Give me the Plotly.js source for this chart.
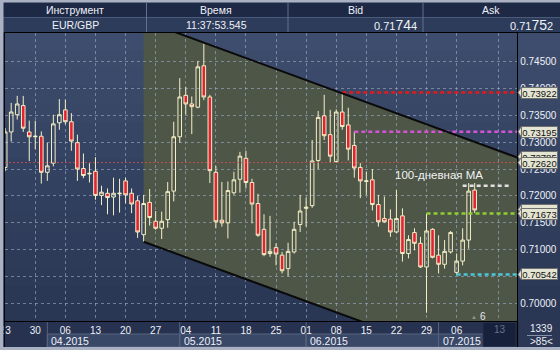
<!DOCTYPE html>
<html><head><meta charset="utf-8">
<script src="https://cdn.plot.ly/plotly-3.0.1.min.js"></script>
<style>html,body{margin:0;padding:0;background:#2f3c5a;}#chart{width:560px;height:350px;}</style>
</head><body><div id="chart"></div>
<script>
// ---------- data ----------
const weekTickIndex  = [0,5,10,15,20,25,30,35,40,45,50,55,60,65,70,75,82];
const weekTickLabels = ['23','30','06','13','20','27','04','11','18','25','01','08','15','22','29','06','13'];
const monthLabels = ['04.2015','05.2015','06.2015','07.2015'];
const monthStartIndex = [7,29,50,72];
const yTickValues = [0.700,0.705,0.710,0.715,0.720,0.725,0.730,0.735,0.740,0.745];

const openP  = [0.7253,0.7319,0.7351,0.7368,0.7319,0.7310,0.7311,0.7244,0.7261,0.7336,
                0.7360,0.7338,0.7299,0.7251,0.7241,0.7246,0.7201,0.7205,0.7198,0.7204,
                0.7228,0.7205,0.7191,0.7128,0.7188,0.7153,0.7140,0.7156,0.7209,0.7310,
                0.7387,0.7371,0.7365,0.7442,0.7384,0.7244,0.7155,0.7150,0.7206,0.7231,
                0.7270,0.7225,0.7186,0.7138,0.7093,0.7104,0.7090,0.7065,0.7096,0.7147,
                0.7177,0.7182,0.7266,0.7349,0.7314,0.7264,0.7356,0.7332,0.7294,0.7253,
                0.7227,0.7230,0.7184,0.7158,0.7157,0.7133,0.7163,0.7093,0.7132,0.7112,
                0.7068,0.7138,0.7090,0.7073,0.7096,0.7058,0.7079,0.7118,0.7211];
const highP  = [0.7326,0.7373,0.7386,0.7386,0.7340,0.7340,0.7320,0.7299,0.7351,0.7380,
                0.7379,0.7354,0.7314,0.7279,0.7261,0.7272,0.7219,0.7214,0.7234,0.7232,
                0.7234,0.7214,0.7200,0.7202,0.7213,0.7172,0.7171,0.7226,0.7338,0.7419,
                0.7403,0.7385,0.7451,0.7483,0.7388,0.7256,0.7226,0.7227,0.7245,0.7282,
                0.7284,0.7232,0.7204,0.7166,0.7163,0.7112,0.7096,0.7113,0.7152,0.7202,
                0.7197,0.7304,0.7358,0.7388,0.7360,0.7361,0.7392,0.7364,0.7320,0.7261,
                0.7245,0.7250,0.7202,0.7199,0.7175,0.7211,0.7177,0.7127,0.7140,0.7124,
                0.7167,0.7140,0.7127,0.7118,0.7135,0.7093,0.7140,0.7224,0.7224];
const lowP   = [0.7246,0.7301,0.7342,0.7319,0.7265,0.7287,0.7223,0.7228,0.7255,0.7323,
                0.7333,0.7284,0.7228,0.7233,0.7225,0.7193,0.7183,0.7166,0.7164,0.7169,
                0.7186,0.7168,0.7122,0.7115,0.7145,0.7137,0.7120,0.7141,0.7190,0.7299,
                0.7351,0.7315,0.7363,0.7378,0.7224,0.7140,0.7143,0.7121,0.7202,0.7206,
                0.7214,0.7149,0.7124,0.7088,0.7087,0.7071,0.7056,0.7051,0.7093,0.7133,
                0.7143,0.7178,0.7250,0.7304,0.7262,0.7262,0.7323,0.7266,0.7234,0.7196,
                0.7202,0.7173,0.7143,0.7150,0.7124,0.7131,0.7078,0.7084,0.7099,0.7066,
                0.6983,0.7084,0.7056,0.7065,0.7093,0.7054,0.7071,0.7102,0.7168];
const closeP = [0.7319,0.7356,0.7371,0.7326,0.7310,0.7311,0.7244,0.7256,0.7334,0.7351,
                0.7338,0.7302,0.7250,0.7238,0.7242,0.7201,0.7207,0.7197,0.7205,0.7205,
                0.7202,0.7185,0.7133,0.7186,0.7160,0.7140,0.7153,0.7208,0.7310,0.7384,
                0.7371,0.7366,0.7440,0.7384,0.7247,0.7152,0.7150,0.7210,0.7230,0.7274,
                0.7225,0.7185,0.7127,0.7091,0.7097,0.7092,0.7061,0.7097,0.7138,0.7172,
                0.7179,0.7265,0.7346,0.7312,0.7274,0.7356,0.7329,0.7287,0.7252,0.7228,
                0.7228,0.7184,0.7152,0.7152,0.7133,0.7158,0.7093,0.7119,0.7112,0.7068,
                0.7135,0.7086,0.7073,0.7097,0.7132,0.7079,0.7118,0.7209,0.7174];

const levelValues = [0.73922, 0.73195, 0.72190, 0.71673, 0.70542];
const levelStart  = [56, 58, 76, 70, 75];
const levelEnd    = [85.2, 85.2, 83.9, 85.2, 85.2];
const refLineValue = 0.72620;
const channelX     = [23, 85.2];
const channelUpper = [0.7526, 0.7271];
const channelLower = [0.7115, 0.6860];

const tagValues = [0.72731, 0.71744, 0.73922, 0.73195, 0.72620, 0.71673, 0.70542];
const tagLabels = ['0.72785','0.71744','0.73922','0.73195','0.72620','0.71673','0.70542'];

const headerTitles = ['Инструмент','Время','Bid','Ask'];
const headerValues = ['EUR/GBP','11:37:53.545'];
const bidText = '0.71<span style="font-size:14px">74</span>4';
const askText = '0.71<span style="font-size:14px">75</span>2';

// ---------- geometry helpers (layout only) ----------
const PL=5, PR=517, PT=33, PB=321;
const X0=-0.03, X1=85.03, Y0=0.69676, Y1=0.75029;
const xp = px => (px-PL)/(PR-PL);
const yp = py => (PB-py)/(PB-PT);
const idx2px = i => PL + (i-X0)/(X1-X0)*(PR-PL);
const val2py = v => PT + (Y1-v)/(Y1-Y0)*(PB-PT);
const FONT = 'Liberation Sans, Arial, sans-serif';

const shapes = [];
function rect(x0,y0,x1,y1,fill,layer,line){
  shapes.push({type:'rect',xref:'paper',yref:'paper',x0:xp(x0),x1:xp(x1),y0:yp(y1),y1:yp(y0),
    fillcolor:fill,line:line||{width:0},layer:layer||'below'});
}
function seg(x0,y0,x1,y1,color,w,layer){
  shapes.push({type:'line',xref:'paper',yref:'paper',x0:xp(x0),x1:xp(x1),y0:yp(y0),y1:yp(y1),
    line:{color:color,width:w||1},layer:layer||'below'});
}
// background gradient of plot + right panel
const gradTop=[62,77,109], gradBot=[41,54,84], NB=16;
for(let k=0;k<NB;k++){
  const t=k/(NB-1);
  const c=gradTop.map((a,j)=>Math.round(a+(gradBot[j]-a)*t));
  rect(0, PT+k*(PB-PT)/NB, 560, PT+(k+1)*(PB-PT)/NB+0.5, 'rgb('+c.join(',')+')');
}
// header
rect(0,0,560,33,'#2d3c5b');
rect(0,2.5,560,17.5,'#1e2946');
seg(0,17.5,560,17.5,'#4b5a7a',1);
rect(0,0,560,2.5,'#a9b1c2');
seg(0,32.5,560,32.5,'#0b0f18',1.2);
[146.5,288,423].forEach(x=>seg(x,2.5,x,32,'#63718e',1));
// x-axis area
rect(0,321,560,347,'#26324f');
rect(517,321,560,347,'#2b3754');
monthStartIndex.forEach((s,m)=>{
  const x0=idx2px(s), x1 = m<monthStartIndex.length-1 ? idx2px(monthStartIndex[m+1]) : 483;
  rect(x0,334,x1,347,'#3a4868','below',{color:'#56647f',width:1});
  seg(x0,321,x0,347,'#56647f',1);
});
rect(483,322.5,516,346.5,'#17213b','above',{color:'#24304c',width:1});
seg(517.5,321,517.5,347,'#000000',1.2,'above');
seg(527,335.5,552,335.5,'#8391aa',1,'above');
rect(0,347,560,350,'#a9b1c2','above');
rect(0,0,3.5,350,'#a9b1c2','above');
seg(4.3,33,4.3,347,'#05070c',1.2,'above');

// tag arrows
tagValues.forEach(v=>{
  const py=val2py(v);
  shapes.push({type:'path',xref:'paper',yref:'paper',layer:'above',
    path:'M'+xp(518)+','+yp(py)+' L'+xp(521.5)+','+yp(py-5.5)+' L'+xp(521.5)+','+yp(py+5.5)+' Z',
    fillcolor:'#e4e4d2',line:{color:'#6f6f6f',width:1}});
});

// ---------- annotations ----------
const ann=[];
function txt(px,py,text,size,color,anchor,extra){
  ann.push(Object.assign({xref:'paper',yref:'paper',x:xp(px),y:yp(py),text:text,showarrow:false,
    xanchor:anchor||'center',yanchor:'middle',font:{family:FONT,size:size,color:color}},extra||{}));
}
const colCenters=[75,216,355.5,491];
headerTitles.forEach((t,k)=>txt(colCenters[k],10.3,t,10.5,'#eef1f7'));
headerValues.forEach((t,k)=>txt(colCenters[k],25.3,t,10.5,'#eef1f7'));
txt(419,25,bidText,11,'#eef1f7','right');
txt(555,25,askText,11,'#eef1f7','right');
monthLabels.forEach((m,k)=>txt(idx2px(monthStartIndex[k])+2,341,m,10.5,'#eef1f7','left'));
txt(500,329,weekTickLabels[weekTickLabels.length-1],10,'#66728d');
txt(541,328.5,'1339',10,'#eef1f7');
txt(541,341.5,'&gt;85&lt;',10,'#eef1f7');
txt(439,175,'100-дневная МА',11.5,'#f2f2f2');
txt(474,316.5,'▲',6,'#8f948a');
txt(482.5,316,'6',10,'#e6e6e6');
tagValues.forEach((v,k)=>{
  ann.push({xref:'paper',yref:'y2',x:xp(520.5),y:v,xanchor:'left',yanchor:'middle',showarrow:false,
    text:tagLabels[k],font:{family:FONT,size:9.5,color:'#111111'},bgcolor:'#e4e4d2',
    bordercolor:'#6f6f6f',borderwidth:1,borderpad:0,width:35,height:10,align:'center'});
});

// ---------- traces ----------
const dayIndex = openP.map((_,k)=>k);
const traces = [];
traces.push({type:'scatter',xaxis:'x',yaxis:'y',mode:'lines',
  x:[channelX[0],channelX[1],channelX[1],channelX[0]],
  y:[channelLower[0],channelLower[1],channelUpper[1],channelUpper[0]],
  fill:'toself',fillcolor:'#4e5648',line:{width:0},hoverinfo:'skip'});
traces.push({type:'scatter',xaxis:'x2',yaxis:'y2',mode:'lines',x:[X0,85.2],y:[refLineValue,refLineValue],
  line:{color:'rgba(210,80,80,0.85)',width:1,dash:'2px,2px'},hoverinfo:'skip'});
traces.push({type:'candlestick',xaxis:'x2',yaxis:'y2',x:dayIndex,open:openP,high:highP,low:lowP,close:closeP,
  increasing:{line:{color:'#f4efc6',width:1},fillcolor:'rgba(0,0,0,0)'},
  decreasing:{line:{color:'#f4efc6',width:1},fillcolor:'#e42234'},
  whiskerwidth:0,hoverinfo:'skip'});
const levelColors=['#e21a1a','#d452d4','#e0e0e0','#8fd030','#48c8d8'];
levelValues.forEach((v,k)=>traces.push({type:'scatter',xaxis:'x2',yaxis:'y2',mode:'lines',
  x:[levelStart[k],levelEnd[k]],y:[v,v],line:{color:levelColors[k],width:2.5,dash:'4px,3px'},hoverinfo:'skip'}));
traces.push({type:'scatter',xaxis:'x2',yaxis:'y2',mode:'lines',x:channelX,y:channelUpper,line:{color:'#0a0a0a',width:2},hoverinfo:'skip'});
traces.push({type:'scatter',xaxis:'x2',yaxis:'y2',mode:'lines',x:channelX,y:channelLower,line:{color:'#0a0a0a',width:2},hoverinfo:'skip'});

const layout = {
  width:560,height:350,margin:{l:PL,r:560-PR,t:PT,b:350-PB},
  paper_bgcolor:'#2f3c5a',plot_bgcolor:'rgba(0,0,0,0)',showlegend:false,
  boxgap:0.15,
  xaxis:{range:[X0,X1],visible:false,fixedrange:true,rangeslider:{visible:false}},
  yaxis:{range:[Y0,Y1],visible:false,fixedrange:true},
  xaxis2:{anchor:'y2',domain:[0,1],range:[X0,X1],tickmode:'array',tickvals:weekTickIndex,ticktext:weekTickLabels,
    showgrid:true,gridcolor:'rgba(160,175,205,0.6)',griddash:'3px,3px',gridwidth:1,zeroline:false,
    showline:true,mirror:true,linecolor:'#000000',linewidth:1.2,ticks:'',ticklabeloverflow:'allow',
    tickfont:{family:FONT,size:10,color:'#eef1f7'},rangeslider:{visible:false},fixedrange:true},
  yaxis2:{anchor:'x2',domain:[0,1],side:'right',range:[Y0,Y1],tickmode:'array',tickvals:yTickValues,
    ticktext:yTickValues.map(v=>v.toFixed(5)),showgrid:true,gridcolor:'rgba(160,175,205,0.6)',griddash:'3px,3px',
    gridwidth:1,zeroline:false,showline:true,mirror:true,linecolor:'#000000',linewidth:1.2,ticks:'',
    ticklabeloverflow:'allow',tickfont:{family:FONT,size:10,color:'#eef1f7'},fixedrange:true},
  shapes:shapes,annotations:ann
};
Plotly.newPlot('chart',traces,layout,{staticPlot:true,displayModeBar:false});
</script></body></html>
